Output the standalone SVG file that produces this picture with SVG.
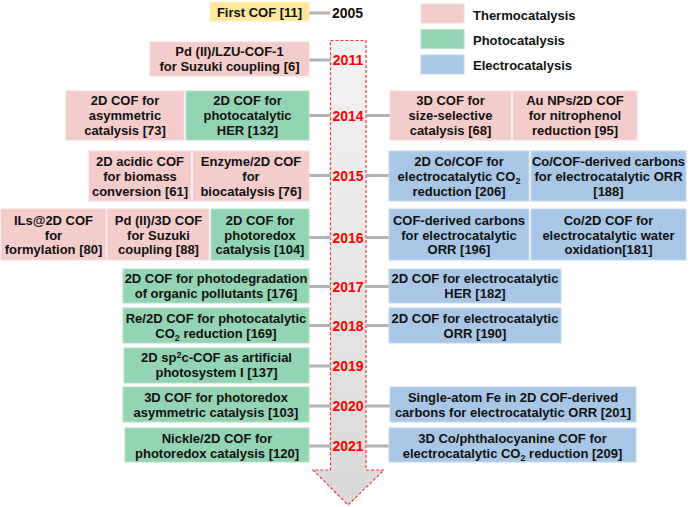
<svg xmlns="http://www.w3.org/2000/svg" width="690" height="507" viewBox="0 0 690 507">
<defs>
<linearGradient id="ag" x1="0" y1="0" x2="0" y2="1">
<stop offset="0" stop-color="#f3f3f3"/>
<stop offset="1" stop-color="#d9d9d9"/>
</linearGradient>
<style>
text{font-family:"Liberation Sans",Arial,sans-serif;font-weight:bold;font-size:13px;fill:#111;text-anchor:middle}
.th{fill:#f5cccc;stroke:#f8dcdc;stroke-width:1}
.ph{fill:#93d4b2;stroke:#b5e2ca;stroke-width:1}
.el{fill:#a8c7e7;stroke:#c3d8ee;stroke-width:1}
.fc{fill:#fee89c;stroke:#fdf0c2;stroke-width:1}
.yr{fill:#ff0000;font-size:14px}
.lg{text-anchor:start}
.sub{font-size:9px}
#connectors line{stroke:#b3b3b3;stroke-width:3}
</style>
</defs>
<path d="M330.5,40.5 H366 V470 H384 L348,505 L313,470 H330.5 Z" fill="url(#ag)" stroke="#ff3333" stroke-width="1.2" stroke-dasharray="3,2"/>
<g id="connectors">
<line x1="309" y1="13" x2="330" y2="13"/>
<line x1="309" y1="60" x2="331" y2="60"/>
<line x1="309" y1="115.5" x2="331" y2="115.5"/>
<line x1="366" y1="115.5" x2="390" y2="115.5"/>
<line x1="309" y1="175.5" x2="331" y2="175.5"/>
<line x1="366" y1="175.5" x2="389" y2="175.5"/>
<line x1="309" y1="237.5" x2="331" y2="237.5"/>
<line x1="366" y1="237.5" x2="389" y2="237.5"/>
<line x1="309" y1="286.5" x2="331" y2="286.5"/>
<line x1="366" y1="286.5" x2="389" y2="286.5"/>
<line x1="309" y1="325.5" x2="331" y2="325.5"/>
<line x1="366" y1="325.5" x2="389" y2="325.5"/>
<line x1="309" y1="366" x2="331" y2="366"/>
<line x1="309" y1="406" x2="331" y2="406"/>
<line x1="366" y1="406" x2="390" y2="406"/>
<line x1="309" y1="446" x2="331" y2="446"/>
<line x1="366" y1="446" x2="389" y2="446"/>
</g>
<g id="years">
<text x="332" y="18" style="font-size:14px;text-anchor:start">2005</text>
<text class="yr" x="348" y="65">2011</text>
<text class="yr" x="348" y="120.5">2014</text>
<text class="yr" x="348" y="180.5">2015</text>
<text class="yr" x="348" y="242.5">2016</text>
<text class="yr" x="348" y="291.5">2017</text>
<text class="yr" x="348" y="330.5">2018</text>
<text class="yr" x="348" y="371">2019</text>
<text class="yr" x="348" y="411">2020</text>
<text class="yr" x="348" y="451">2021</text>
</g>
<g id="legend">
<rect class="th" x="421" y="4" width="43" height="19"/>
<text class="lg" x="473" y="19.5">Thermocatalysis</text>
<rect class="ph" x="421" y="29.5" width="43" height="19"/>
<text class="lg" x="473" y="44.5">Photocatalysis</text>
<rect class="el" x="421" y="55" width="43" height="19"/>
<text class="lg" x="473" y="69.5">Electrocatalysis</text>
</g>
<g id="n2005">
<rect class="fc" x="210" y="2" width="99" height="19"/>
<text x="259.5" y="16.5">First COF [11]</text>
</g>
<g id="n2011">
<rect class="th" x="150" y="42" width="159" height="34"/>
<text x="229.5" y="56">Pd (II)/LZU-COF-1</text>
<text x="229.5" y="71">for Suzuki coupling [6]</text>
</g>
<g id="n2014a">
<rect class="th" x="66" y="91" width="118" height="49"/>
<text x="125" y="105">2D COF for</text>
<text x="125" y="120">asymmetric</text>
<text x="125" y="135">catalysis [73]</text>
</g>
<g id="n2014b">
<rect class="ph" x="186" y="91" width="123" height="49"/>
<text x="247.5" y="105">2D COF for</text>
<text x="247.5" y="120">photocatalytic</text>
<text x="247.5" y="135">HER [132]</text>
</g>
<g id="n2014c">
<rect class="th" x="390" y="91" width="121" height="49"/>
<text x="450.5" y="105">3D COF for</text>
<text x="450.5" y="120">size-selective</text>
<text x="450.5" y="135">catalysis [68]</text>
</g>
<g id="n2014d">
<rect class="th" x="513" y="91" width="124" height="49"/>
<text x="575" y="105">Au NPs/2D COF</text>
<text x="575" y="120">for nitrophenol</text>
<text x="575" y="135">reduction [95]</text>
</g>
<g id="n2015a">
<rect class="th" x="89" y="151" width="102" height="50"/>
<text x="140" y="165.5">2D acidic COF</text>
<text x="140" y="180.5">for biomass</text>
<text x="140" y="195.5">conversion [61]</text>
</g>
<g id="n2015b">
<rect class="th" x="193" y="151" width="116" height="50"/>
<text x="251" y="165.5">Enzyme/2D COF</text>
<text x="251" y="180.5">for</text>
<text x="251" y="195.5">biocatalysis [76]</text>
</g>
<g id="n2015c">
<rect class="el" x="389" y="151" width="140" height="50"/>
<text x="459" y="165.5">2D Co/COF for</text>
<text x="459" y="180.5">electrocatalytic CO<tspan class="sub" dy="3">2</tspan></text>
<text x="459" y="195.5">reduction [206]</text>
</g>
<g id="n2015d">
<rect class="el" x="531" y="151" width="155" height="50"/>
<text x="608.5" y="165.5">Co/COF-derived carbons</text>
<text x="608.5" y="180.5">for electrocatalytic ORR</text>
<text x="608.5" y="195.5">[188]</text>
</g>
<g id="n2016a">
<rect class="th" x="1" y="209" width="105" height="51"/>
<text x="53.5" y="224.5">ILs@2D COF</text>
<text x="53.5" y="239.5">for</text>
<text x="53.5" y="254">formylation [80]</text>
</g>
<g id="n2016b">
<rect class="th" x="107.5" y="209" width="101.5" height="51"/>
<text x="158.5" y="224.5">Pd (II)/3D COF</text>
<text x="158.5" y="239.5">for Suzuki</text>
<text x="158.5" y="254">coupling [88]</text>
</g>
<g id="n2016c">
<rect class="ph" x="211" y="209" width="98" height="51"/>
<text x="260" y="224.5">2D COF for</text>
<text x="260" y="239.5">photoredox</text>
<text x="260" y="254">catalysis [104]</text>
</g>
<g id="n2016d">
<rect class="el" x="389" y="209" width="140" height="51"/>
<text x="459" y="224.5">COF-derived carbons</text>
<text x="459" y="239.5">for electrocatalytic</text>
<text x="459" y="254">ORR [196]</text>
</g>
<g id="n2016e">
<rect class="el" x="531" y="209" width="155" height="51"/>
<text x="608.5" y="224.5">Co/2D COF for</text>
<text x="608.5" y="239.5">electrocatalytic water</text>
<text x="608.5" y="254">oxidation[181]</text>
</g>
<g id="n2017a">
<rect class="ph" x="123" y="269" width="186" height="34"/>
<text x="216" y="283">2D COF for photodegradation</text>
<text x="216" y="298">of organic pollutants [176]</text>
</g>
<g id="n2017b">
<rect class="el" x="389" y="269" width="172" height="34"/>
<text x="475" y="283">2D COF for electrocatalytic</text>
<text x="475" y="298">HER [182]</text>
</g>
<g id="n2018a">
<rect class="ph" x="123" y="308" width="186" height="35"/>
<text x="216" y="323">Re/2D COF for photocatalytic</text>
<text x="216" y="338">CO<tspan class="sub" dy="3">2</tspan><tspan dy="-3"> reduction [169]</tspan></text>
</g>
<g id="n2018b">
<rect class="el" x="389" y="308" width="172" height="35"/>
<text x="475" y="323">2D COF for electrocatalytic</text>
<text x="475" y="338">ORR [190]</text>
</g>
<g id="n2019">
<rect class="ph" x="124" y="348" width="185" height="35"/>
<text x="216.5" y="362">2D sp<tspan class="sub" dy="-4">2</tspan><tspan dy="4">c-COF as artificial</tspan></text>
<text x="216.5" y="377">photosystem I [137]</text>
</g>
<g id="n2020a">
<rect class="ph" x="123" y="387" width="186" height="35"/>
<text x="216" y="402">3D COF for photoredox</text>
<text x="216" y="417">asymmetric catalysis [103]</text>
</g>
<g id="n2020b">
<rect class="el" x="390" y="387" width="246" height="35"/>
<text x="513" y="402">Single-atom Fe in 2D COF-derived</text>
<text x="513" y="417">carbons for electrocatalytic ORR [201]</text>
</g>
<g id="n2021a">
<rect class="ph" x="125" y="428" width="184" height="34"/>
<text x="217" y="443">Nickle/2D COF for</text>
<text x="217" y="457.5">photoredox catalysis [120]</text>
</g>
<g id="n2021b">
<rect class="el" x="389" y="428" width="247" height="34"/>
<text x="512.5" y="443">3D Co/phthalocyanine COF for</text>
<text x="512.5" y="457.5">electrocatalytic CO<tspan class="sub" dy="3">2</tspan><tspan dy="-3"> reduction [209]</tspan></text>
</g>
</svg>
